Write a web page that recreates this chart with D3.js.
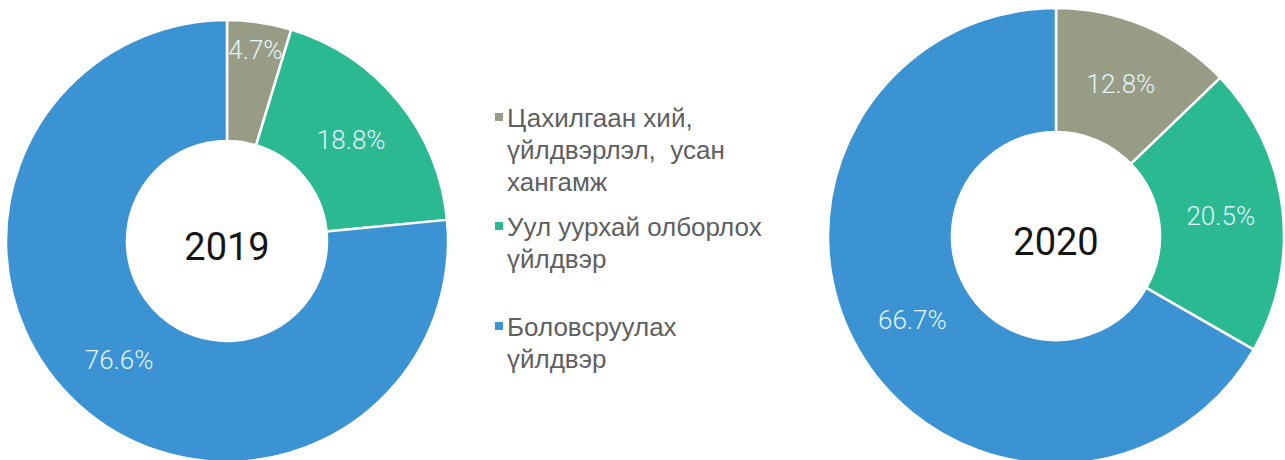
<!DOCTYPE html>
<html>
<head>
<meta charset="utf-8">
<script src="https://cdn.jsdelivr.net/npm/d3@7"></script>
<style>
  html, body { margin: 0; padding: 0; background: #ffffff; }
  svg { display: block; }
</style>
</head>
<body>
<svg id="chart" width="1285" height="460"></svg>
<script>
// ---- data ----
const categories = ["Цахилгаан хий, үйлдвэрлэл,  усан хангамж", "Уул уурхай олборлох үйлдвэр", "Боловсруулах үйлдвэр"];
const legendLines = [["Цахилгаан хий,", "үйлдвэрлэл,  усан", "хангамж"], ["Уул уурхай олборлох", "үйлдвэр"], ["Боловсруулах", "үйлдвэр"]];
const years = ["2019", "2020"];
const values2019 = [4.7, 18.8, 76.6];
const values2020 = [12.8, 20.5, 66.7];

// ---- styling / layout ----
const color = d3.scaleOrdinal().domain(categories).range(["#989c85", "#2bb992", "#3b93d3"]);
const svg = d3.select("#chart");
const W = 1285, H = 460;
svg.append("rect").attr("width", W).attr("height", H).attr("fill", "#ffffff");

const donuts = [
  { year: years[0], values: values2019, cx: 227, cy: 241, outer: 221, inner: 100 },
  { year: years[1], values: values2020, cx: 1056, cy: 236, outer: 228, inner: 104 }
];

const pie = d3.pie().sort(null).value(d => d.v);
const fmt = d3.format(".1f");

donuts.forEach(dn => {
  const g = svg.append("g").attr("transform", `translate(${dn.cx},${dn.cy})`);
  const arc = d3.arc().innerRadius(dn.inner).outerRadius(dn.outer);
  const arcs = pie(dn.values.map((v, i) => ({ v, c: categories[i] })));
  g.selectAll("path.slice").data(arcs).join("path")
    .attr("class", "slice")
    .attr("d", arc)
    .attr("fill", d => color(d.data.c))
    .attr("stroke", "#ffffff")
    .attr("stroke-width", 2.5)
    .attr("stroke-linejoin", "round");

  g.selectAll("text.lbl").data(arcs).join("text")
    .attr("class", "lbl")
    .attr("transform", d => {
      const r = d.data.v < 8 ? dn.outer * 0.875 : (dn.inner + dn.outer) / 2;
      const a = (d.startAngle + d.endAngle) / 2;
      return `translate(${r * Math.sin(a)},${-r * Math.cos(a)})`;
    })
    .attr("text-anchor", "middle")
    .attr("dy", "0.36em")
    .attr("font-family", "Roboto, 'Open Sans', sans-serif")
    .attr("font-weight", 300)
    .attr("font-size", 26)
    .attr("fill", "#e2f4fa")
    .text(d => fmt(d.data.v) + "%");

  g.append("text")
    .attr("x", 0).attr("y", 5)
    .attr("text-anchor", "middle")
    .attr("dy", "0.36em")
    .attr("font-family", "Roboto, sans-serif")
    .attr("font-size", 38)
    .attr("fill", "#151515")
    .text(dn.year);
});

// ---- legend ----
const legendRowY = [127, 236, 336];
const lineH = 32;
const lg = svg.append("g");
legendLines.forEach((lines, i) => {
  const y0 = legendRowY[i];
  lg.append("rect")
    .attr("x", 495).attr("y", y0 - 14)
    .attr("width", 8).attr("height", 8)
    .attr("fill", color(categories[i]));
  const t = lg.append("text")
    .attr("x", 507).attr("y", y0)
    .attr("font-family", "'Liberation Sans', Arial, sans-serif")
    .attr("font-size", 26)
    .attr("fill", "#606060");
  lines.forEach((ln, j) => {
    t.append("tspan").attr("x", 507).attr("y", y0 + j * lineH).attr("xml:space", "preserve").text(ln);
  });
});
</script>
</body>
</html>
